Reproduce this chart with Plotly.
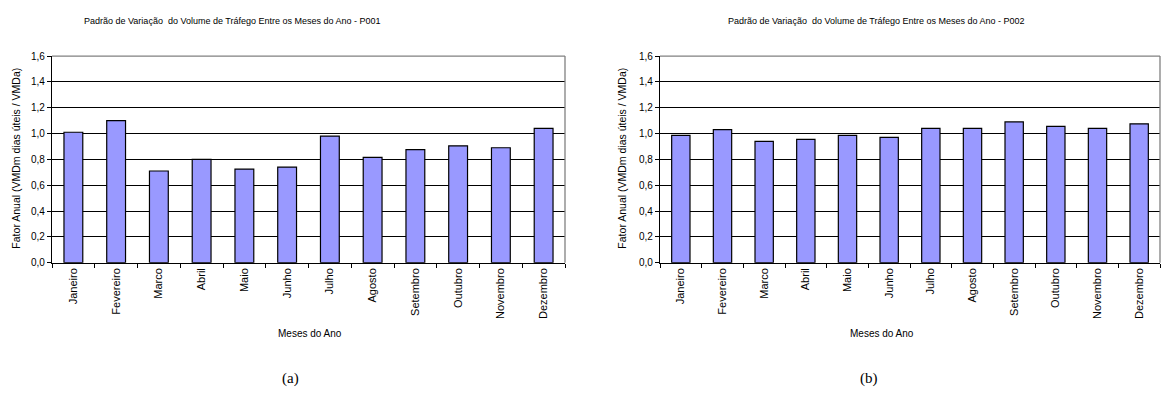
import plotly.graph_objects as go

W, H = 1162, 398

months = ["Janeiro", "Fevereiro", "Marco", "Abril", "Maio", "Junho",
          "Julho", "Agosto", "Setembro", "Outubro", "Novembro", "Dezembro"]
p001 = [1.01, 1.10, 0.71, 0.80, 0.725, 0.74, 0.98, 0.815, 0.875, 0.905, 0.89, 1.04]
p002 = [0.985, 1.03, 0.94, 0.955, 0.985, 0.97, 1.04, 1.04, 1.09, 1.055, 1.04, 1.075]
title_a = "Padrão de Variação  do Volume de Tráfego Entre os Meses do Ano - P001"
title_b = "Padrão de Variação  do Volume de Tráfego Entre os Meses do Ano - P002"
y_title = "Fator Anual (VMDm dias úteis / VMDa)"
x_title = "Meses do Ano"
y_ticks = [0.0, 0.2, 0.4, 0.6, 0.8, 1.0, 1.2, 1.4, 1.6]

FONT = "Liberation Sans, Arial, sans-serif"
BAR = "#9999FF"


def px(x):
    return x / W


def py(y):
    return 1 - y / H


fig = go.Figure()
fig.add_trace(go.Bar(x=months, y=p001, xaxis="x", yaxis="y",
                     marker=dict(color=BAR, line=dict(color="black", width=1.2))))
fig.add_trace(go.Bar(x=months, y=p002, xaxis="x2", yaxis="y2",
                     marker=dict(color=BAR, line=dict(color="black", width=1.2))))

y_dom = [py(265), py(52.5)]
x_common = dict(type="category", showline=True, linecolor="black", linewidth=1.3,
                ticks="outside", ticklen=4, tickcolor="black", tickwidth=1.3,
                tickson="boundaries", tickangle=-90, showgrid=False,
                tickfont=dict(family=FONT, size=11, color="black"))
y_common = dict(range=[0, 1.6], tickvals=y_ticks, tickformat=".1f",
                showline=True, linecolor="black", linewidth=1.3,
                ticks="outside", ticklen=4, tickcolor="black", tickwidth=1.3,
                showgrid=True, gridcolor="black", gridwidth=1.2, zeroline=False,
                tickfont=dict(family=FONT, size=10, color="black"), domain=y_dom)

fig.update_layout(
    width=W, height=H, margin=dict(l=0, r=0, t=0, b=0),
    paper_bgcolor="white", plot_bgcolor="white", showlegend=False,
    separators=",.", bargap=0.56,
    xaxis=dict(domain=[px(52), px(565)], anchor="y", **x_common),
    yaxis=dict(anchor="x", **y_common),
    xaxis2=dict(domain=[px(660), px(1160)], anchor="y2", **x_common),
    yaxis2=dict(anchor="x2", **y_common),
)

shapes = []
for xa, ya in (("x", "y"), ("x2", "y2")):
    shapes.append(dict(type="line", xref=f"{xa} domain", yref=f"{ya} domain",
                       x0=0, x1=1, y0=1, y1=1, line=dict(color="#808080", width=1.3),
                       layer="above"))
    shapes.append(dict(type="line", xref=f"{xa} domain", yref=f"{ya} domain",
                       x0=1, x1=1, y0=0, y1=1, line=dict(color="#808080", width=1.3),
                       layer="above"))
fig.update_layout(shapes=shapes)

ann = []
def txt(text, x, y, size, family=FONT, angle=0):
    ann.append(dict(text=text, x=px(x), y=py(y), xref="paper", yref="paper",
                    showarrow=False, xanchor="center", yanchor="middle",
                    textangle=angle, font=dict(family=family, size=size, color="black")))

txt(title_a, 232, 16, 9)
txt(title_b, 876, 16, 9)
txt(y_title, 16, 158, 10.5, angle=-90)
txt(y_title, 622, 158, 10.5, angle=-90)
txt(x_title, 310, 338, 10)
txt(x_title, 882, 338, 10)
txt("(a)", 290, 384, 15, family="Liberation Serif, Times New Roman, serif")
txt("(b)", 869, 384, 15, family="Liberation Serif, Times New Roman, serif")
fig.update_layout(annotations=ann)

fig.write_html("out.html", config={"displayModeBar": False},
               post_script="document.body.style.margin='0';document.body.style.overflow='hidden';")
